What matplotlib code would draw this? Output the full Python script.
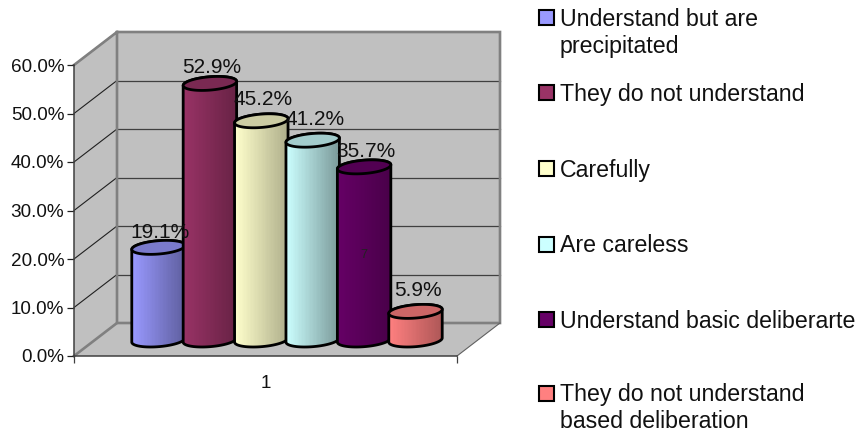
import matplotlib
matplotlib.use('Agg')
import matplotlib.pyplot as plt
import numpy as np
from matplotlib.colors import to_rgb
from matplotlib.patches import Polygon, Rectangle

plt.rcParams['font.family'] = ['Liberation Sans', 'DejaVu Sans']

categories = ['Understand but are\nprecipitated', 'They do not understand', 'Carefully',
              'Are careless', 'Understand basic deliberarte',
              'They do not understand\nbased deliberation']
values = [19.1, 52.9, 45.2, 41.2, 35.7, 5.9]
colors = ['#9999FF', '#993366', '#FFFFCC', '#CCFFFF', '#660066', '#FF8080']
shade = [0.62, 0.68, 0.68, 0.6, 0.72, 0.68]
y_ticks = [0, 10, 20, 30, 40, 50, 60]
x_label = '1'

W, H = 861, 433
fig = plt.figure(figsize=(W / 100, H / 100), dpi=100)
# front face of the 3d box, x units are pixels, y units are percent
ax = fig.add_axes([74 / W, 1 - 356 / H, 383 / W, 291 / H])
ax.patch.set_visible(False)
PX = 60 / 291  # one pixel in y units
DX, DY = 43, 33 * PX
GREY = '#C0C0C0'
EDGE = '#808080'

# walls and floor
left, right = 74, 457
ax.add_patch(Polygon([(left, 0), (left, 60), (left + DX, 60 + DY), (left + DX, DY)],
                     fc=GREY, ec='none', clip_on=False, zorder=0))
ax.add_patch(Polygon([(left + DX, DY), (left + DX, 60 + DY), (right + DX, 60 + DY), (right + DX, DY)],
                     fc=GREY, ec='none', clip_on=False, zorder=0))
ax.add_patch(Polygon([(left, 0), (right, 0), (right + DX, DY), (left + DX, DY)],
                     fc=GREY, ec='none', clip_on=False, zorder=0))

# gridlines on both walls
for t in y_ticks[1:]:
    ax.plot([left, left + DX], [t, t + DY], color='#202020', lw=0.8, clip_on=False, zorder=1)
    if t < 60:
        ax.plot([left + DX, right + DX], [t + DY, t + DY], color='#404040', lw=0.9, clip_on=False, zorder=1)

# thick grey wall borders
ax.plot([left, left + DX, right + DX, right + DX, left + DX, left + DX],
        [60, 60 + DY, 60 + DY, DY, DY, 60 + DY], color=EDGE, lw=1.9, clip_on=False, zorder=1,
        solid_joinstyle='miter')
ax.plot([left, left + DX], [0, DY], color=EDGE, lw=1.9, clip_on=False, zorder=1)
ax.plot([right, right + DX], [0, DY], color='#606060', lw=0.8, clip_on=False, zorder=1)

# cylinders
a, sx, b = 25.5, 8.0, 7.0 * PX
base = 16 * PX
t0 = np.arctan2(sx, a)
label_dy = [15, 16, 21, 21, 15, 21]  # label height above the cap, pixels


def ring(xc, y, t):
    return np.column_stack([xc + a * np.cos(t) + sx * np.sin(t), y + b * np.sin(t)])


for i, (v, c, s) in enumerate(zip(values, colors, shade)):
    xc = 158.5 + 51.4 * i
    top = base + v
    low = ring(xc, base, np.linspace(t0 + np.pi, t0 + 2 * np.pi, 60))
    up = ring(xc, top, np.linspace(t0, t0 + np.pi, 60))
    body = np.vstack([low, up])
    half = np.hypot(a, sx)

    rgb = np.array(to_rgb(c))
    ramp = np.linspace(1, s, 40)[None, :, None] * rgb[None, None, :]
    im = ax.imshow(ramp, extent=(xc - half, xc + half, base - 3, top + 3), aspect='auto',
                   interpolation='nearest', zorder=3 + i)
    im.set_clip_path(Polygon(body, transform=ax.transData))
    ax.add_patch(Polygon(body, fc='none', ec='black', lw=2.0, zorder=3 + i, clip_on=False))
    cap = ring(xc, top, np.linspace(0, 2 * np.pi, 120))
    ax.add_patch(Polygon(cap, fc=rgb * 0.8, ec='black', lw=2.0, zorder=3 + i, clip_on=False))
    ax.annotate(f'{v:.1f}%', (xc + 2, top), xytext=(0, label_dy[i] * 0.72), textcoords='offset points',
                ha='center', va='center', fontsize=15, color='#111111', zorder=20,
                annotation_clip=False)

# stray label inside the purple cylinder
ax.text(364, (356 - 255) * PX, '7', fontsize=9, color='#222222', ha='center', va='center', zorder=20)

ax.set_xlim(left, right)
ax.set_ylim(0, 60)
ax.set_yticks(y_ticks)
ax.set_yticklabels([f'{t:.1f}%' for t in y_ticks], fontsize=13.6, color='#111111')
ax.set_xticks([left, right])
ax.set_xticklabels(['', ''])
ax.set_xticks([(left + right) / 2], [x_label], minor=True, fontsize=13.6, color='#111111')
ax.tick_params(axis='x', which='minor', length=0, pad=14)
ax.tick_params(axis='x', which='major', length=5, width=0.9, color='#404040')
ax.tick_params(axis='y', length=5, width=0.9, color='#202020', pad=2)
for name in ['top', 'right']:
    ax.spines[name].set_visible(False)
for name in ['left', 'bottom']:
    ax.spines[name].set_color('#404040')
    ax.spines[name].set_linewidth(1.1)
    ax.spines[name].set_zorder(2)

# legend laid out by hand, the rows are not evenly spaced
rows_y = [18, 93, 169, 245, 320, 394]
for label, c, y in zip(categories, colors, rows_y):
    fig.add_artist(Rectangle((538.5 / W, 1 - (y + 7) / H), 15 / W, 15 / H, fc=c, ec='black', lw=1.5,
                             transform=fig.transFigure))
    for j, line in enumerate(label.split('\n')):
        fig.text(560 / W, 1 - (y + 1 + 27 * j) / H, line, fontsize=16.7, color='#111111', va='center', ha='left')

fig.savefig('out.png', dpi=100)
